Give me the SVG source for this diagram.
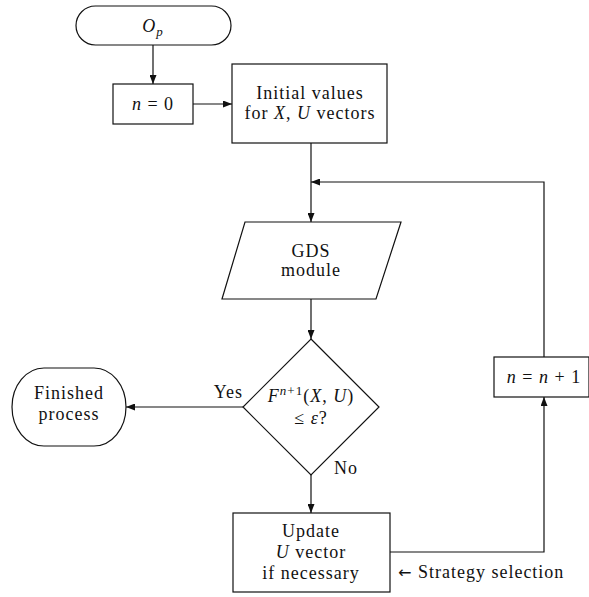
<svg xmlns="http://www.w3.org/2000/svg" width="589" height="597" viewBox="0 0 589 597">
<defs>
<style>
.n{fill:#fff;stroke:#111;stroke-width:1.2}
.c{fill:none;stroke:#111;stroke-width:1.2}
text{font-family:"Liberation Serif","Times New Roman",serif;font-size:18px;fill:#111;letter-spacing:1px}
.m{text-anchor:middle}
.i{font-style:italic}
.s{font-size:13px}
</style>
<marker id="ah" markerWidth="9" markerHeight="7" refX="9" refY="3.5" orient="auto" markerUnits="userSpaceOnUse">
<path d="M0,0 L9,3.5 L0,7 Z" fill="#111"/>
</marker>
</defs>
<g id="connectors">
<path class="c" d="M153,45 V84" marker-end="url(#ah)"/>
<path class="c" d="M193,104 H232" marker-end="url(#ah)"/>
<path class="c" d="M311,143 V222" marker-end="url(#ah)"/>
<path class="c" d="M544,357 V182 H311" marker-end="url(#ah)"/>
<path class="c" d="M311,299 V339" marker-end="url(#ah)"/>
<path class="c" d="M243,407 H126" marker-end="url(#ah)"/>
<path class="c" d="M311,475 V513" marker-end="url(#ah)"/>
<path class="c" d="M390,552 H544 V397" marker-end="url(#ah)"/>
</g>
<g id="op">
<rect class="n" x="76" y="6" width="155" height="39" rx="19.5"/>
<text x="153" y="32" class="m i">O<tspan class="s" dy="4">p</tspan></text>
</g>
<g id="n0">
<rect class="n" x="113" y="84" width="80" height="40"/>
<text x="153" y="110" class="m"><tspan class="i">n</tspan> = 0</text>
</g>
<g id="initial">
<rect class="n" x="232" y="64" width="155" height="79"/>
<text x="310" y="99" class="m">Initial values</text>
<text x="310" y="119" class="m">for <tspan class="i">X</tspan>, <tspan class="i">U</tspan> vectors</text>
</g>
<g id="gds">
<polygon class="n" points="245,222 401,222 376,299 222,299"/>
<text x="311" y="257" class="m">GDS</text>
<text x="311" y="276" class="m">module</text>
</g>
<g id="decision">
<polygon class="n" points="311,339 379,407 311,475 243,407"/>
<text x="311" y="402" class="m" font-size="19"><tspan class="i">F</tspan><tspan class="s i" dy="-7">n</tspan><tspan class="s">+1</tspan><tspan dy="7">(</tspan><tspan class="i">X</tspan>, <tspan class="i">U</tspan>)</text>
<text x="311" y="424" class="m">≤ <tspan class="i">ε</tspan>?</text>
</g>
<g id="finished">
<rect class="n" x="12" y="368" width="114" height="78" rx="32" ry="39"/>
<text x="69" y="399" class="m">Finished</text>
<text x="69" y="420" class="m">process</text>
</g>
<g id="increment">
<rect class="n" x="494" y="357" width="95" height="40"/>
<text x="544" y="383" class="m"><tspan class="i">n</tspan> = <tspan class="i">n</tspan> + 1</text>
</g>
<g id="update">
<rect class="n" x="233" y="513" width="157" height="79"/>
<text x="311" y="537" class="m">Update</text>
<text x="311" y="558" class="m"><tspan class="i">U</tspan> vector</text>
<text x="311" y="579" class="m">if necessary</text>
</g>
<g id="labels">
<text x="243" y="398" text-anchor="end">Yes</text>
<text x="334" y="474">No</text>
<text x="398" y="578"><tspan font-family="DejaVu Sans, sans-serif" font-size="16">←</tspan> Strategy selection</text>
</g>
</svg>
